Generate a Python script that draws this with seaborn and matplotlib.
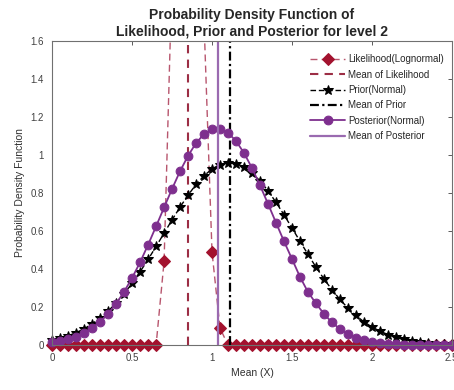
import numpy as np
import pandas as pd
import seaborn as sns
import matplotlib.pyplot as plt
from matplotlib.patches import Rectangle

# Data ------------------------------------------------------------------------

mean_x = [0.00, 0.05, 0.10, 0.15, 0.20, 0.25, 0.30, 0.35, 0.40, 0.45,
          0.50, 0.55, 0.60, 0.65, 0.70, 0.75, 0.80, 0.85, 0.90, 0.95,
          1.00, 1.05, 1.10, 1.15, 1.20, 1.25, 1.30, 1.35, 1.40, 1.45,
          1.50, 1.55, 1.60, 1.65, 1.70, 1.75, 1.80, 1.85, 1.90, 1.95,
          2.00, 2.05, 2.10, 2.15, 2.20, 2.25, 2.30, 2.35, 2.40, 2.45, 2.50]

likelihood = [0, 0, 0, 0, 0, 0, 0, 0, 0, 0,
              0, 0, 0, 0, 0.44, 1.95, 2.6, 2.8, 2.4, 1.7,
              0.49, 0.09, 0, 0, 0, 0, 0, 0, 0, 0,
              0, 0, 0, 0, 0, 0, 0, 0, 0, 0,
              0, 0, 0, 0, 0, 0, 0, 0, 0, 0, 0]

prior = [0.027, 0.037, 0.049, 0.066, 0.086, 0.112, 0.143, 0.179, 0.222, 0.271,
         0.325, 0.386, 0.451, 0.519, 0.589, 0.659, 0.726, 0.789, 0.845, 0.891,
         0.927, 0.950, 0.960, 0.955, 0.938, 0.907, 0.864, 0.812, 0.752, 0.686,
         0.617, 0.547, 0.478, 0.411, 0.349, 0.292, 0.241, 0.195, 0.156, 0.123,
         0.096, 0.074, 0.056, 0.041, 0.030, 0.022, 0.016, 0.011, 0.008, 0.005, 0.004]

posterior = [0.014, 0.021, 0.031, 0.045, 0.065, 0.090, 0.124, 0.166, 0.218, 0.281,
             0.354, 0.436, 0.528, 0.625, 0.724, 0.822, 0.915, 0.996, 1.063, 1.110,
             1.136, 1.138, 1.117, 1.074, 1.011, 0.932, 0.841, 0.744, 0.645, 0.547,
             0.454, 0.360, 0.280, 0.220, 0.165, 0.120, 0.085, 0.060, 0.040, 0.027,
             0.018, 0.012, 0.008, 0.005, 0.003, 0.002, 0.001, 0.001, 0.0, 0.0, 0.0]

mean_likelihood = 0.85
mean_prior = 1.11
mean_posterior = 1.04

df = pd.DataFrame({"x": mean_x, "likelihood": likelihood,
                   "prior": prior, "posterior": posterior})

# Plot ------------------------------------------------------------------------

sns.set_style("white")
plt.rcParams["font.family"] = ["Liberation Sans", "DejaVu Sans"]

c_lik_line = "#B8566E"
c_lik = "#A3122E"
c_lik_mean = "#9C2E45"
c_post = "#7E2F8E"
c_post_mean = "#9A6AB0"

fig = plt.figure(figsize = (4.54, 3.90), dpi = 100)
ax = fig.add_axes([0.115, 0.115, 0.88, 0.78])

sns.lineplot(data = df, x = "x", y = "likelihood", ax = ax, color = c_lik_line,
             linestyle = (0, (5, 3)), linewidth = 1.0, marker = "D",
             markersize = 5.8, markerfacecolor = c_lik, markeredgecolor = c_lik,
             label = "Likelihood(Lognormal)")
ax.axvline(mean_likelihood, color = c_lik_mean, linestyle = (0, (4, 3)),
           linewidth = 1.5, label = "Mean of Likelihood")

sns.lineplot(data = df, x = "x", y = "prior", ax = ax, color = "black",
             linestyle = (0, (4, 2)), linewidth = 1.0, marker = "*",
             markersize = 7, markeredgecolor = "black", label = "Prior(Normal)")
ax.axvline(mean_prior, color = "black", linestyle = (0, (4, 1.5, 1, 1.5)),
           linewidth = 1.6, label = "Mean of Prior")

sns.lineplot(data = df, x = "x", y = "posterior", ax = ax, color = c_post,
             linewidth = 1.3, marker = "o", markersize = 6.3,
             markeredgecolor = c_post, label = "Posterior(Normal)")
ax.axvline(mean_posterior, color = c_post_mean, linewidth = 1.6,
           label = "Mean of Posterior")

# let markers on the edges show in full (top still clipped)
clip_box = Rectangle((-0.03, -0.05), 1.06, 1.05, transform = ax.transAxes,
                     facecolor = "none", edgecolor = "none")
ax.add_patch(clip_box)
for ln in ax.lines:
    if ln.get_marker() not in (None, "None", ""):
        ln.set_clip_path(clip_box)

ax.set_xlim(0, 2.5)
ax.set_ylim(0, 1.6)
ax.set_xticks([0, 0.5, 1, 1.5, 2, 2.5])
ax.set_xticklabels(["0", "0.5", "1", "1.5", "2", "2.5"])
ax.set_yticks([0, 0.2, 0.4, 0.6, 0.8, 1.0, 1.2, 1.4, 1.6])
ax.set_yticklabels(["0", "0.2", "0.4", "0.6", "0.8", "1", "1.2", "1.4", "1.6"])
ax.tick_params(direction = "in", top = True, right = True, length = 3,
               labelsize = 7, colors = "#404040", width = 0.6, pad = 6)
for s in ax.spines.values():
    s.set_color("#707070")
    s.set_linewidth(0.8)

ax.set_xlabel("Mean (X)", fontsize = 7.5, color = "#303030", labelpad = 3)
ax.set_ylabel("Probability Density Function", fontsize = 7.5, color = "#303030")
ax.set_title("Probability Density Function of\nLikelihood, Prior and Posterior for level 2",
             fontsize = 10, fontweight = "bold", pad = 4, linespacing = 1.25)

leg = ax.legend(loc = "upper right", bbox_to_anchor = (0.995, 0.975), frameon = False,
                fontsize = 7, handlelength = 3.6, labelspacing = 0.55,
                handletextpad = 0.3, borderaxespad = 0.2)

fig.savefig("out.png", dpi = 100)
